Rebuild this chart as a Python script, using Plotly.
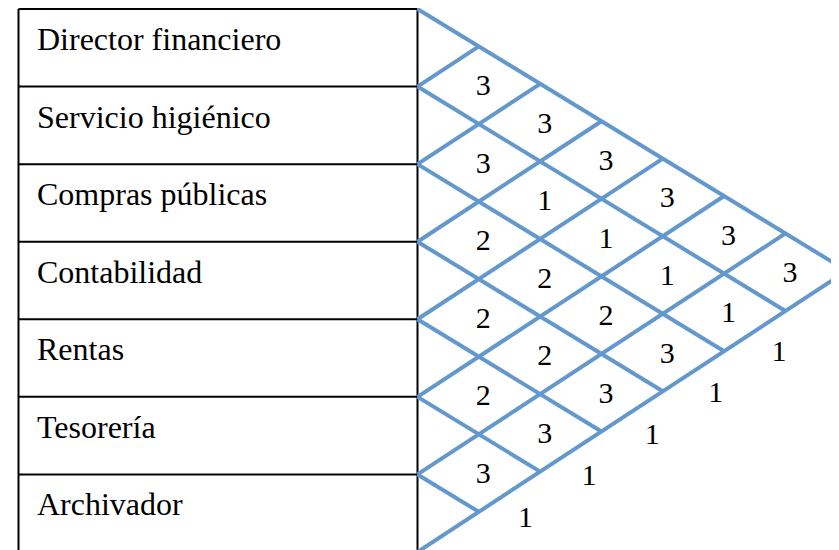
import plotly.graph_objects as go

# ---------------- data ----------------
DEPARTMENTS = [
    "Director financiero",
    "Servicio higiénico",
    "Compras públicas",
    "Contabilidad",
    "Rentas",
    "Tesorería",
    "Archivador",
]
# closeness values for each pair (i, j>i), listed row by row
REL_DIRECTOR = [3, 3, 3, 3, 3, 3]
REL_SERVICIO = [3, 1, 1, 1, 1]
REL_COMPRAS = [2, 2, 2, 3]
REL_CONTABILIDAD = [2, 2, 3]
REL_RENTAS = [2, 3]
REL_TESORERIA = [3]
RELATIONS = [REL_DIRECTOR, REL_SERVICIO, REL_COMPRAS, REL_CONTABILIDAD, REL_RENTAS, REL_TESORERIA]
OUTER_LABELS = ["1", "1", "1", "1", "1", "6"]

# ---------------- geometry / style ----------------
W, H = 839, 550
PAGE_OFF = 8          # browser body margin: the figure starts at (8, 8)
TABLE_LEFT = 18.5
TABLE_RIGHT = 417.5
TOP = 9
ROW_H = 77.57
S_D = 0.61    # slope of descending diagonals
S_A = 0.655   # slope of ascending diagonals
BLUE = "rgb(99,152,206)"
SERIF = "Liberation Serif"

n = len(DEPARTMENTS)
bounds = [TOP + ROW_H * k for k in range(n + 1)]
step = ROW_H / (S_D + S_A)

# blue diagonal lattice
bx, by = [], []
for k in range(n):  # descending lines, end on the bottom edge
    dx = (bounds[n] - bounds[k]) / (S_D + S_A)
    bx += [TABLE_RIGHT, TABLE_RIGHT + dx, None]
    by += [bounds[k], bounds[k] + S_D * dx, None]
for k in range(1, n + 1):  # ascending lines, end on the top edge
    dx = (bounds[k] - bounds[0]) / (S_D + S_A)
    bx += [TABLE_RIGHT, TABLE_RIGHT + dx, None]
    by += [bounds[k], bounds[k] - S_A * dx, None]

# black table
kx, ky = [], []
for k in range(n + 1):
    kx += [TABLE_LEFT, TABLE_RIGHT, None]
    ky += [bounds[k], bounds[k], None]
for xv in (TABLE_LEFT, TABLE_RIGHT):
    kx += [xv, xv, None]
    ky += [bounds[0], bounds[n], None]

fig = go.Figure()
fig.add_trace(go.Scatter(x=kx, y=ky, mode="lines", line=dict(color="black", width=2),
                         hoverinfo="skip", showlegend=False, cliponaxis=False))
fig.add_trace(go.Scatter(x=bx, y=by, mode="lines", line=dict(color=BLUE, width=4),
                         hoverinfo="skip", showlegend=False, cliponaxis=False))

# department names
fig.add_trace(go.Scatter(
    x=[37] * n,
    y=[bounds[k] + 33 for k in range(n)],
    text=DEPARTMENTS, mode="text", textposition="middle right",
    textfont=dict(family=SERIF, size=32, color="black"),
    hoverinfo="skip", showlegend=False, cliponaxis=False))

# closeness values in diamonds
vx, vy, vt = [], [], []
for i, row in enumerate(RELATIONS):
    ci = bounds[i] + ROW_H / 2
    for c, val in enumerate(row, start=1):
        vx.append(TABLE_RIGHT + c * step + 4.5)
        vy.append(ci + S_D * c * step + 2.5)
        vt.append(str(val))
fig.add_trace(go.Scatter(
    x=vx, y=vy, text=vt, mode="text", textposition="middle center",
    textfont=dict(family=SERIF, size=30, color="black"),
    hoverinfo="skip", showlegend=False, cliponaxis=False))

# outer labels along the lower edge
OUT_START, OUT_STEP, OUT_OFF = 108, 63.4, 38
ox = [TABLE_RIGHT + OUT_START + k * OUT_STEP for k in range(len(OUTER_LABELS))]
oy = [bounds[n] - S_A * (x - TABLE_RIGHT) + OUT_OFF for x in ox]
fig.add_trace(go.Scatter(
    x=ox, y=oy, text=OUTER_LABELS, mode="text", textposition="middle center",
    textfont=dict(family=SERIF, size=30, color="black"),
    hoverinfo="skip", showlegend=False, cliponaxis=False))

fig.update_layout(
    width=W - PAGE_OFF, height=H - PAGE_OFF,
    margin=dict(l=0, r=0, t=0, b=0),
    paper_bgcolor="white", plot_bgcolor="white",
    xaxis=dict(range=[PAGE_OFF, W], visible=False, fixedrange=True),
    yaxis=dict(range=[H, PAGE_OFF], visible=False, fixedrange=True),
    hovermode=False,
)
fig.write_html("out.html", config={"displayModeBar": False})
